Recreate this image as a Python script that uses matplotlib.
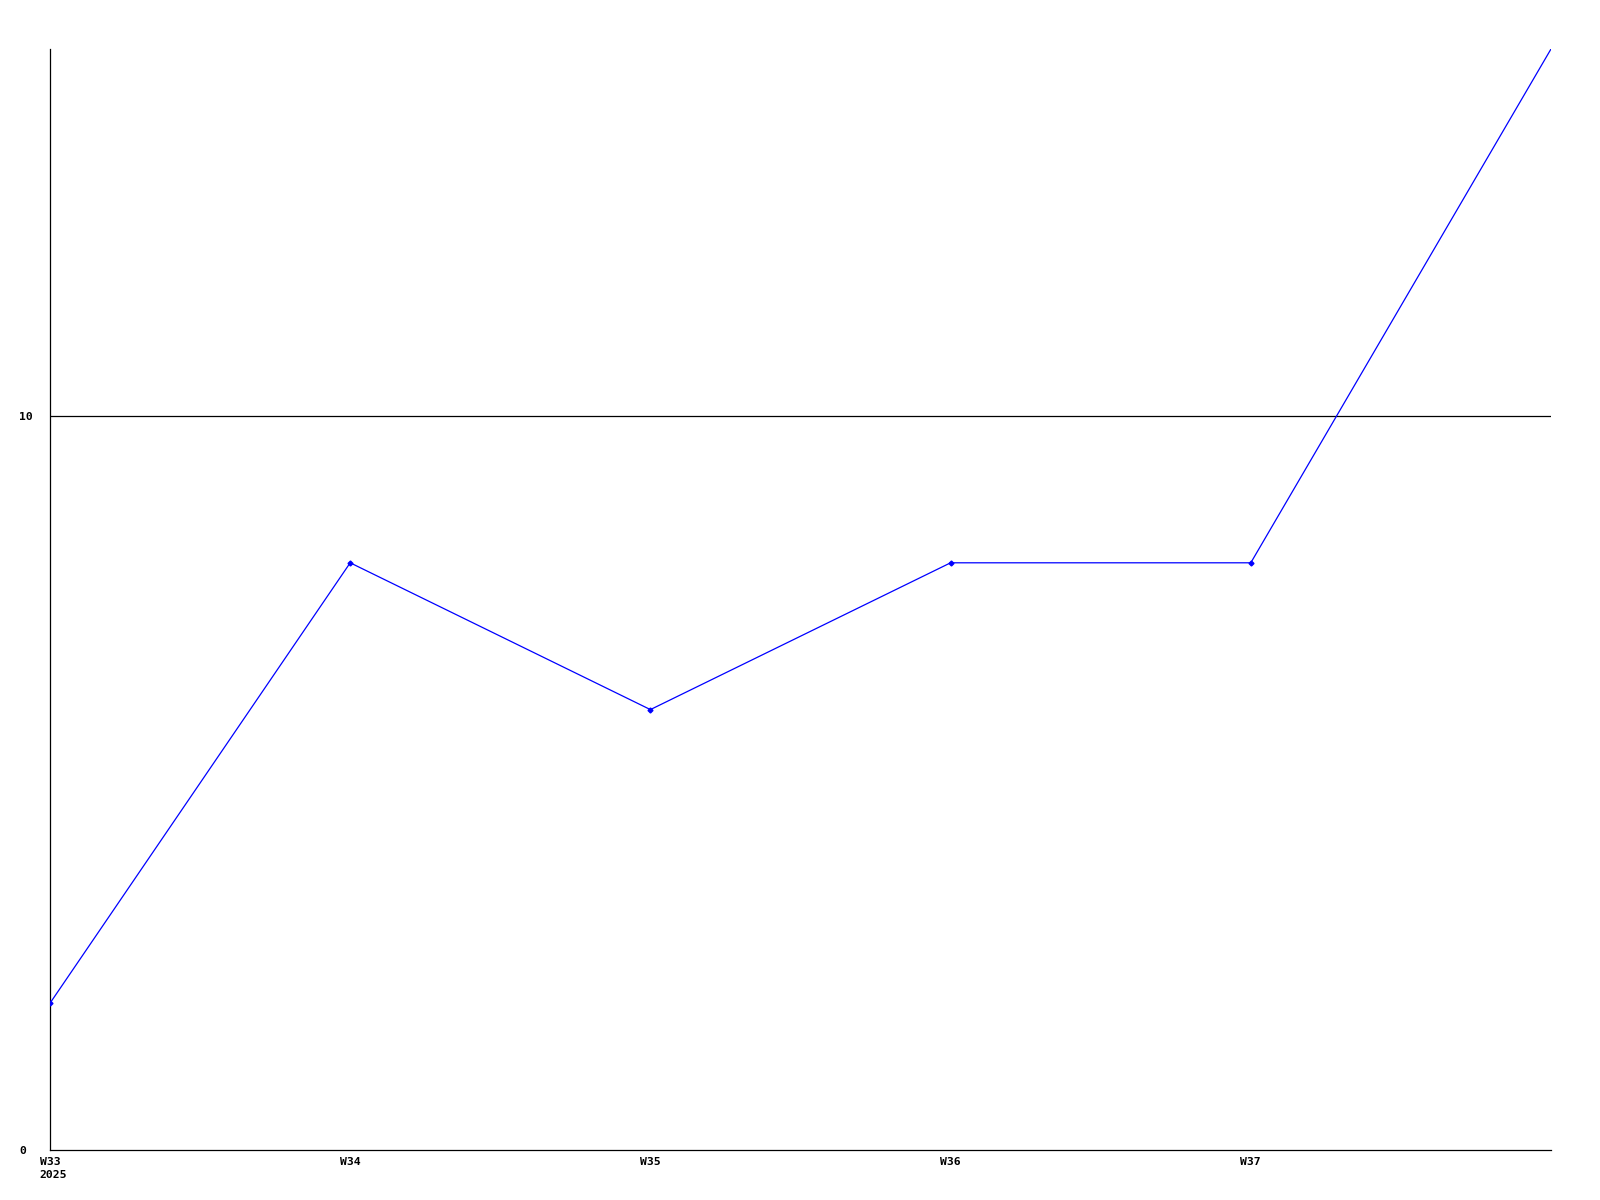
import matplotlib
matplotlib.use("Agg")
import matplotlib.pyplot as plt
import matplotlib.transforms as mtransforms

# weekly values
weeks = ["W33", "W34", "W35", "W36", "W37", "W38"]
values = [2, 8, 6, 8, 8, 15]
tick_labels = ["W33\n2025", "W34", "W35", "W36", "W37"]
y_ticks = [0, 10]

plt.rcParams['font.family'] = ['DejaVu Sans Mono']

fig = plt.figure(figsize=(16, 12), dpi=100, facecolor="white")
ax = fig.add_axes([50 / 1600, 1 - 1150 / 1200, 1501 / 1600, 1101 / 1200])

x = list(range(len(weeks)))
ax.plot(x, values, color="#0000ff", lw=0.9, marker="D", markersize=2.5,
        markevery=list(range(len(weeks) - 1)), zorder=3)

ax.axhline(10, color="black", lw=0.9, zorder=2)

ax.set_xlim(0, len(weeks) - 1)
ax.set_ylim(0, 15)
ax.spines['top'].set_visible(False)
ax.spines['right'].set_visible(False)
ax.spines['left'].set_linewidth(0.9)
ax.spines['bottom'].set_linewidth(0.9)

ax.set_xticks(x[:-1])
ax.set_xticklabels(tick_labels, fontsize=8.2, fontweight='bold', linespacing=1.4)
ax.set_yticks(y_ticks)
ax.set_yticklabels([str(v) for v in y_ticks], fontsize=8.2, fontweight='bold')
ax.tick_params(axis='y', length=0, pad=0)
ax.tick_params(axis='x', length=0, pad=5)

# y labels sit left-aligned in the margin
yshift = mtransforms.ScaledTranslation(-30.5 / 100, 0, fig.dpi_scale_trans)
for lbl in ax.get_yticklabels():
    lbl.set_horizontalalignment('left')
    lbl.set_transform(lbl.get_transform() + yshift)

# first label: "W33" centred on its tick, year left-aligned beneath it
lbl0 = ax.get_xticklabels()[0]
lbl0.set_horizontalalignment('left')
shift = mtransforms.ScaledTranslation(-10.5 / 100, 0, fig.dpi_scale_trans)
lbl0.set_transform(lbl0.get_transform() + shift)

fig.savefig("out.png", dpi=100, facecolor="white")
